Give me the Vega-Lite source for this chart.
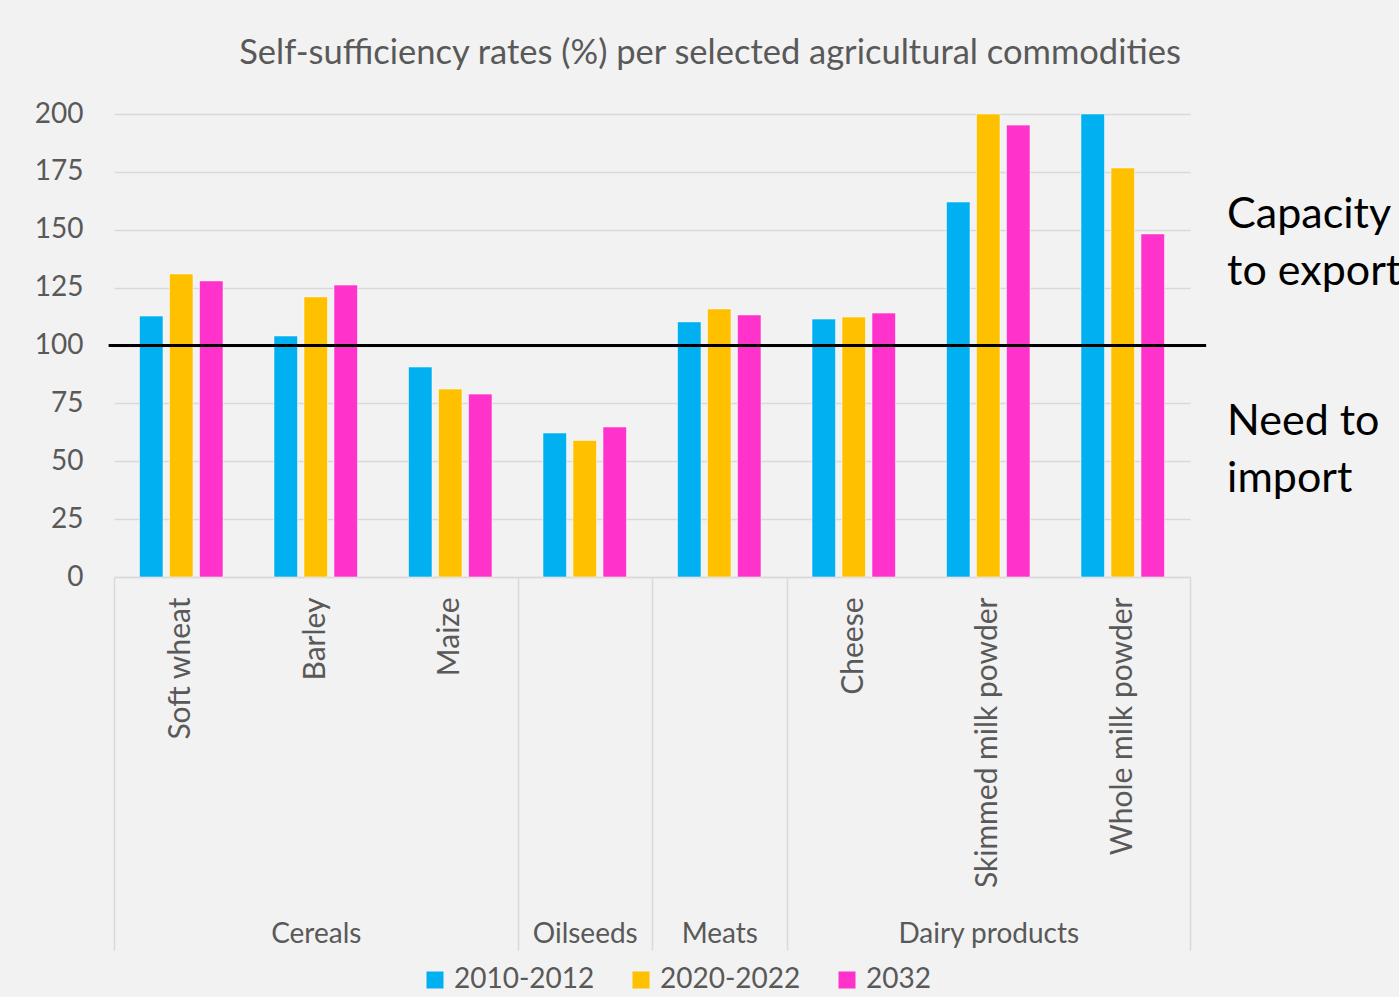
{
  "$schema": "https://vega.github.io/schema/vega-lite/v6.json",
  "width": 1076,
  "height": 463,
  "autosize": {"type": "none"},
  "padding": {"left": 114, "top": 114, "right": 209, "bottom": 420},
  "background": "#f2f2f2",
  "config": {
    "font": "Lato",
    "view": {"stroke": null},
    "text": {"lineBreak": "\n"}
  },
  "title": {
    "text": "Self-sufficiency rates (%) per selected agricultural commodities",
    "fontSize": 34.5,
    "fontWeight": "normal",
    "color": "#595959",
    "anchor": "middle",
    "offset": 29,
    "dx": 58
  },
  "datasets": {
    "bars": [
      {"group": "Cereals", "commodity": "Soft wheat", "period": "2010-2012", "rate": 112.7},
      {"group": "Cereals", "commodity": "Soft wheat", "period": "2020-2022", "rate": 130.9},
      {"group": "Cereals", "commodity": "Soft wheat", "period": "2032", "rate": 127.9},
      {"group": "Cereals", "commodity": "Barley", "period": "2010-2012", "rate": 104.1},
      {"group": "Cereals", "commodity": "Barley", "period": "2020-2022", "rate": 121.0},
      {"group": "Cereals", "commodity": "Barley", "period": "2032", "rate": 126.1},
      {"group": "Cereals", "commodity": "Maize", "period": "2010-2012", "rate": 90.7},
      {"group": "Cereals", "commodity": "Maize", "period": "2020-2022", "rate": 81.2},
      {"group": "Cereals", "commodity": "Maize", "period": "2032", "rate": 79.0},
      {"group": "Oilseeds", "commodity": "Oilseeds", "period": "2010-2012", "rate": 62.2},
      {"group": "Oilseeds", "commodity": "Oilseeds", "period": "2020-2022", "rate": 59.0},
      {"group": "Oilseeds", "commodity": "Oilseeds", "period": "2032", "rate": 64.8},
      {"group": "Meats", "commodity": "Meats", "period": "2010-2012", "rate": 110.2},
      {"group": "Meats", "commodity": "Meats", "period": "2020-2022", "rate": 115.8},
      {"group": "Meats", "commodity": "Meats", "period": "2032", "rate": 113.2},
      {"group": "Dairy products", "commodity": "Cheese", "period": "2010-2012", "rate": 111.4},
      {"group": "Dairy products", "commodity": "Cheese", "period": "2020-2022", "rate": 112.3},
      {"group": "Dairy products", "commodity": "Cheese", "period": "2032", "rate": 114.0},
      {"group": "Dairy products", "commodity": "Skimmed milk powder", "period": "2010-2012", "rate": 162.0},
      {"group": "Dairy products", "commodity": "Skimmed milk powder", "period": "2020-2022", "rate": 200.0},
      {"group": "Dairy products", "commodity": "Skimmed milk powder", "period": "2032", "rate": 195.2},
      {"group": "Dairy products", "commodity": "Whole milk powder", "period": "2010-2012", "rate": 200.0},
      {"group": "Dairy products", "commodity": "Whole milk powder", "period": "2020-2022", "rate": 176.7},
      {"group": "Dairy products", "commodity": "Whole milk powder", "period": "2032", "rate": 148.2}
    ],
    "threshold": [
      {"x": -0.04, "x2": 8.12, "y": 100}
    ],
    "notes": [
      {"label": "Capacity\nto export", "x": 8.276, "y": 150.8},
      {"label": "Need to\nimport", "x": 8.276, "y": 61.3}
    ]
  },
  "layer": [
    {
      "data": {"name": "bars"},
      "mark": {"type": "bar", "stroke": "#ffffff", "strokeWidth": 1, "strokeOpacity": 0.5},
      "encoding": {
        "x": {
          "field": "commodity",
          "type": "nominal",
          "sort": null,
          "scale": {"paddingInner": 0, "paddingOuter": 0},
          "axis": {
            "orient": "bottom",
            "title": null,
            "labelAngle": -90,
            "labelPadding": 20,
            "labelLimit": 0,
            "ticks": false,
            "tickSize": 0,
            "domainColor": "#d9d9d9",
            "domainWidth": 1.5,
            "labelFontSize": 30,
            "labelColor": "#595959",
            "labelExpr": "datum.value == 'Oilseeds' || datum.value == 'Meats' ? '' : datum.value"
          }
        },
        "xOffset": {
          "field": "period",
          "type": "nominal",
          "scale": {"paddingInner": 0.217, "paddingOuter": 0.85}
        },
        "y": {
          "field": "rate",
          "type": "quantitative",
          "title": null,
          "scale": {"domain": [0, 200], "nice": false},
          "axis": {
            "values": [0, 25, 50, 75, 100, 125, 150, 175, 200],
            "grid": true,
            "gridColor": "#d9d9d9",
            "gridWidth": 1.5,
            "domain": false,
            "ticks": false,
            "tickSize": 0,
            "labelPadding": 31,
            "labelFontSize": 28,
            "labelColor": "#595959"
          }
        },
        "color": {
          "field": "period",
          "type": "nominal",
          "scale": {"domain": ["2010-2012", "2020-2022", "2032"], "range": ["#00b0f0", "#ffc000", "#ff33cc"]},
          "legend": {
            "title": null,
            "orient": "none",
            "legendX": 307,
            "legendY": 852,
            "direction": "horizontal",
            "symbolType": "square",
            "symbolSize": 289,
            "symbolStrokeWidth": 0,
            "labelFontSize": 28,
            "labelColor": "#595959",
            "labelOffset": 5,
            "columnPadding": 32
          }
        }
      }
    },
    {
      "data": {"name": "threshold"},
      "mark": {"type": "rule", "color": "#000000", "strokeWidth": 3},
      "encoding": {
        "x": {
          "field": "x",
          "type": "quantitative",
          "scale": {"domain": [0, 8], "nice": false, "zero": false},
          "axis": {
            "orient": "bottom",
            "title": null,
            "values": [0, 3, 4, 5, 8],
            "labels": false,
            "domain": false,
            "grid": false,
            "ticks": true,
            "tickSize": 373,
            "tickColor": "#d9d9d9",
            "tickWidth": 1.5
          }
        },
        "x2": {"field": "x2"},
        "y": {"field": "y", "type": "quantitative", "title": null, "scale": {"domain": [0, 200], "nice": false}}
      }
    },
    {
      "data": {"name": "notes"},
      "mark": {"type": "text", "align": "left", "baseline": "alphabetic", "fontSize": 43, "lineHeight": 57, "color": "#000000"},
      "encoding": {
        "x": {
          "field": "x",
          "type": "quantitative",
          "scale": {"domain": [0, 8], "nice": false, "zero": false},
          "axis": {
            "orient": "bottom",
            "title": null,
            "values": [1.5, 3.5, 4.5, 6.5],
            "labelExpr": "datum.value == 1.5 ? 'Cereals' : datum.value == 3.5 ? 'Oilseeds' : datum.value == 4.5 ? 'Meats' : 'Dairy products'",
            "ticks": false,
            "tickSize": 0,
            "domain": false,
            "grid": false,
            "offset": 365,
            "labelPadding": 0,
            "labelBaseline": "alphabetic",
            "labelLimit": 0,
            "labelFontSize": 28,
            "labelColor": "#595959",
            "labelFlush": false,
            "labelOverlap": false
          }
        },
        "y": {"field": "y", "type": "quantitative", "title": null, "scale": {"domain": [0, 200], "nice": false}},
        "text": {"field": "label"}
      }
    }
  ],
  "resolve": {"scale": {"x": "independent"}, "axis": {"x": "independent"}}
}
